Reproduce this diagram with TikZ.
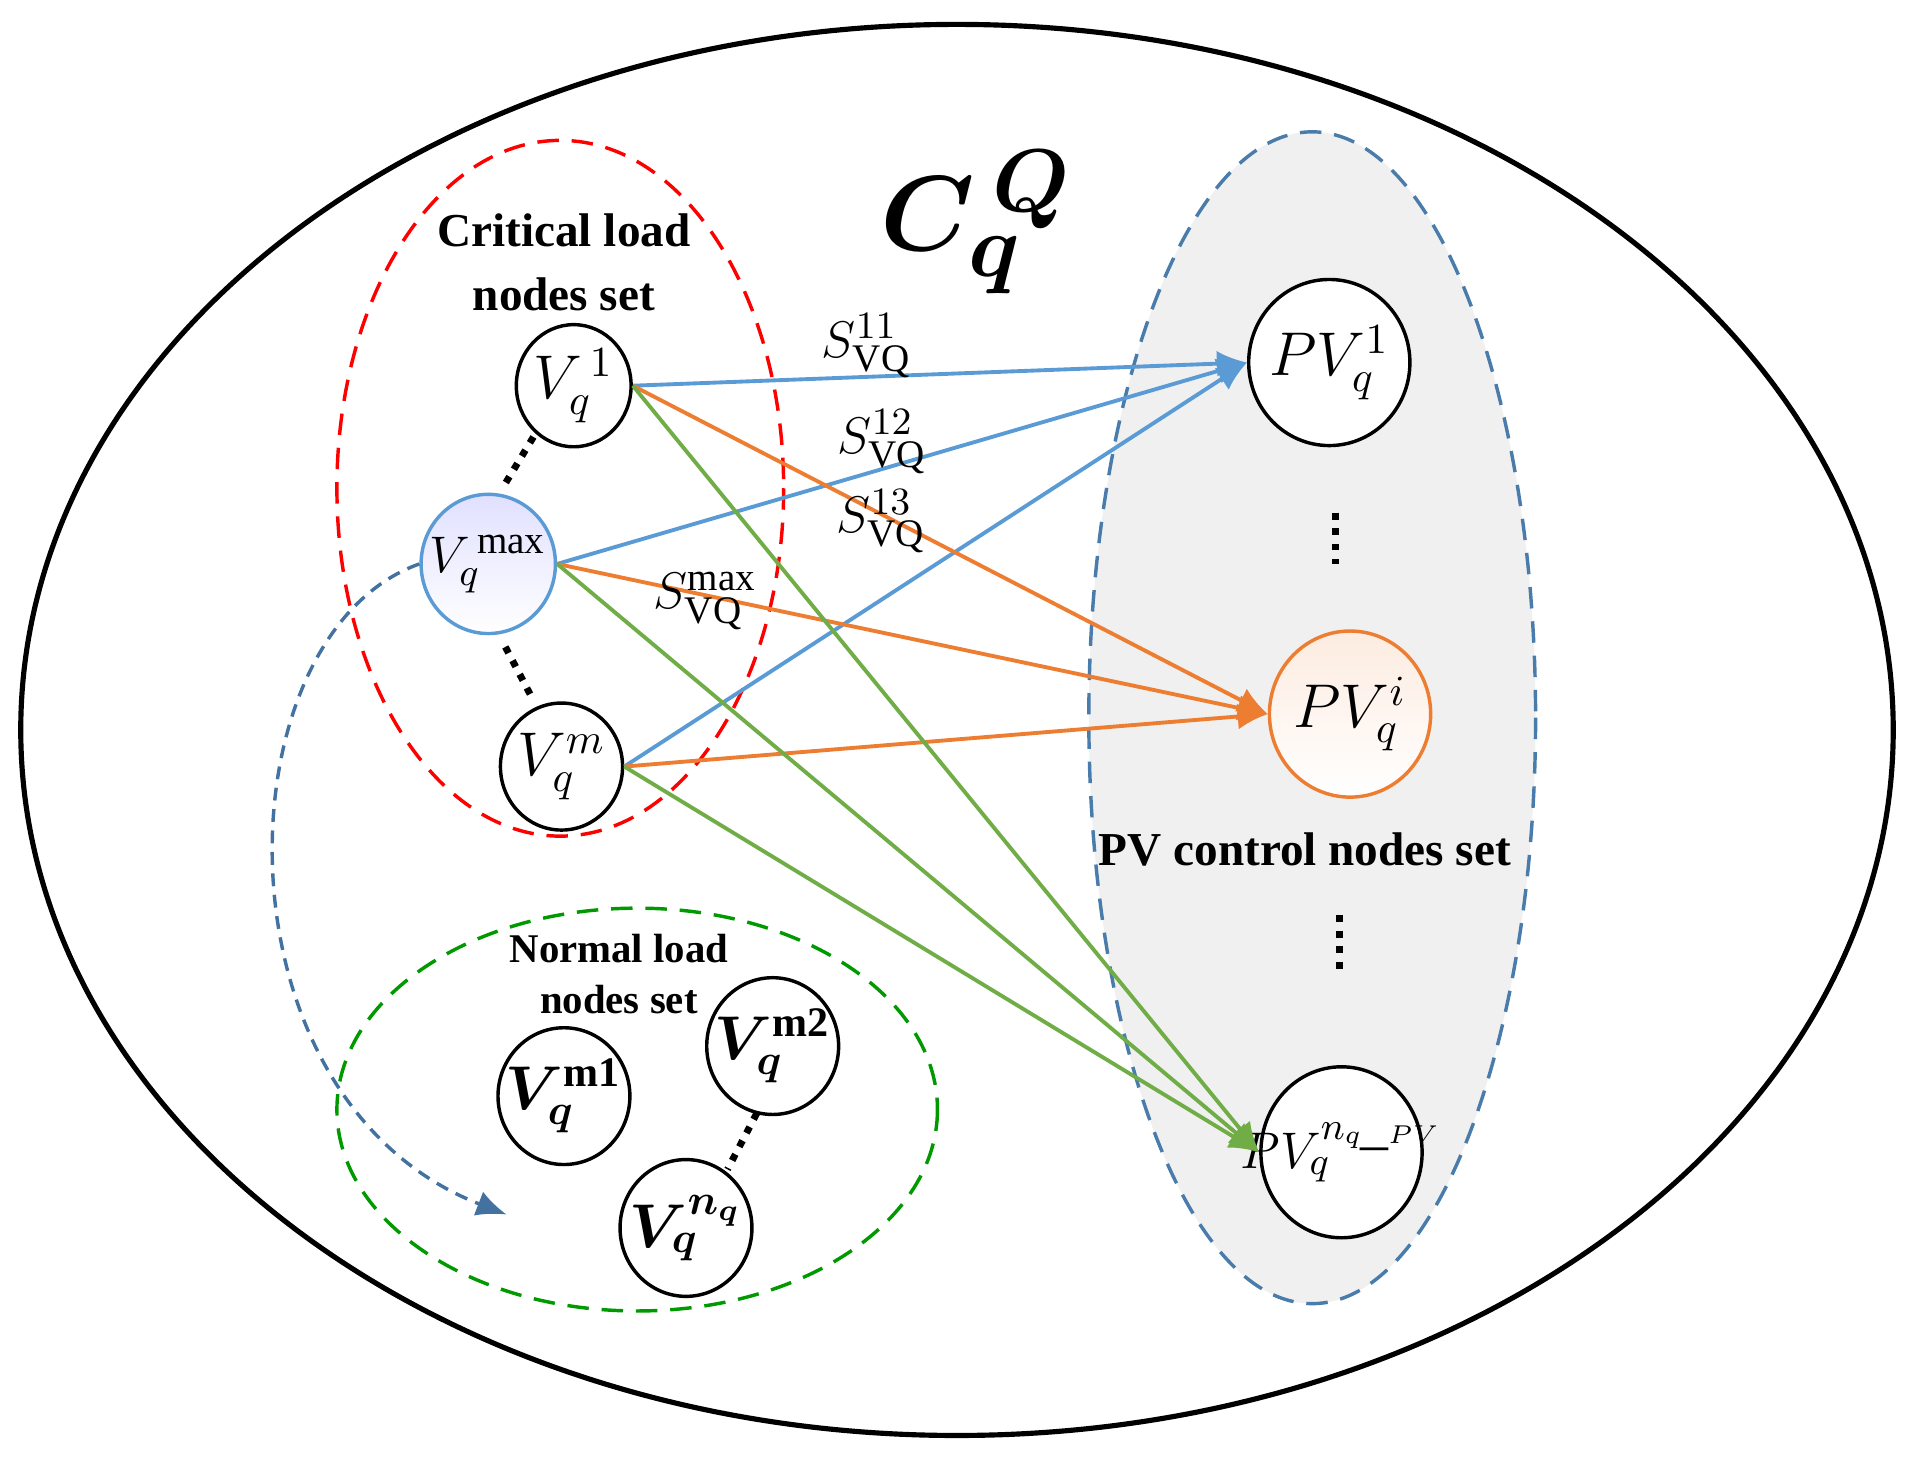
\documentclass[tikz,border=0pt]{standalone}
\usepackage{bm}
\usepackage{fontspec}
\setmainfont{Liberation Serif}
\usetikzlibrary{arrows.meta,shapes.geometric}
\definecolor{bl}{RGB}{91,155,213}
\definecolor{og}{RGB}{237,125,49}
\definecolor{gr}{RGB}{112,173,71}
\definecolor{dbl}{RGB}{68,114,160}
\begin{document}
\begin{tikzpicture}[x=0.01cm,y=-0.01cm,
  nd/.style={draw,thick,fill=white,ellipse,inner sep=0pt},
  lab/.style={font=\fontsize{14}{14}\selectfont,inner sep=0pt},
  bold/.style={font=\fontsize{9.5}{11}\selectfont\bfseries},
  dots/.style={line width=1.6pt,dotted},
  dsh/.style={dash pattern=on 5pt off 3pt},
  ar/.style={-{Latex[length=7pt,width=6pt]},line width=0.9pt}]
\useasboundingbox (0,0) rectangle (1568,1195);
\draw[line width=1.2pt] (784,598) ellipse [x radius=767, y radius=578];
\draw[red,dsh,thick] (459,400) ellipse [x radius=183, y radius=285];
\draw[bl!80!black,dsh,thick,fill=gray!12] (1075,588) ellipse [x radius=183, y radius=480];
\draw[green!60!black,dsh,thick] (522,909) ellipse [x radius=246, y radius=165];
% nodes
\node[nd,minimum width=0.94cm,minimum height=1cm] (v1) at (470,316) {};
\node[nd,draw=bl,top color=blue!12,bottom color=white,minimum width=1.1cm,minimum height=1.14cm] (vmax) at (400,462) {};
\node[nd,minimum width=1cm,minimum height=1.04cm] (vm) at (460,628) {};
\node[nd,minimum width=1.32cm,minimum height=1.36cm] (pv1) at (1089,297) {};
\node[nd,draw=og,top color=og!15,bottom color=white,minimum width=1.32cm,minimum height=1.36cm] (pvi) at (1106,585) {};
\node[nd,minimum width=1.32cm,minimum height=1.4cm] (pvn) at (1099,944) {};
\node[nd,minimum width=1.08cm,minimum height=1.12cm] (vm1) at (462,898) {};
\node[nd,minimum width=1.08cm,minimum height=1.12cm] (vm2) at (633,857) {};
\node[nd,minimum width=1.08cm,minimum height=1.12cm] (vnq) at (562,1006) {};
\node[lab] at (v1) {$V_q^{\,1}$};
\node[lab,font=\fontsize{13}{13}\selectfont] at (vmax) {$V_q^{\,\mathrm{max}}$};
\node[lab] at (vm) {$V_q^{m}$};
\node[lab] at (pv1) {$PV_q^{1}$};
\node[lab] at (pvi) {$PV_q^{i}$};
\node[lab,font=\fontsize{13}{13}\selectfont] at (pvn) {$PV_q^{n_{q\_PV}}$};
\node[lab] at (vm1) {$\bm{V_q^{\mathrm{m1}}}$};
\node[lab] at (vm2) {$\bm{V_q^{\mathrm{m2}}}$};
\node[lab] at (vnq) {$\bm{V_q^{n_q}}$};
\coordinate (dend) at (415,995);
% arrows
\draw[ar,bl] (v1.east) -- (pv1.west);
\draw[ar,bl] (vmax.east) -- (pv1.west);
\draw[ar,bl] (vm.east) -- (pv1.west);
\draw[ar,og] (v1.east) -- (pvi.west);
\draw[ar,og] (vmax.east) -- (pvi.west);
\draw[ar,og] (vm.east) -- (pvi.west);
\draw[ar,gr] (v1.east) -- (pvn.west);
\draw[ar,gr] (vmax.east) -- (pvn.west);
\draw[ar,gr] (vm.east) -- (pvn.west);
\draw[dbl,thick,dash pattern=on 3pt off 2pt,-{Latex[length=7pt,width=6pt]}] (vmax.west) .. controls (180,520) and (170,900) .. (dend);
% dotted
\draw[dots] (v1) ++(-33,42) -- ++(-23,38);
\draw[dots] (vmax) ++(14,68) -- ++(22,42);
\draw[dots] (vm2) ++(-13,55) -- ++(-24,46);
\draw[dots] (1094,420) -- (1094,462);
\draw[dots] (1097,750) -- (1097,795);
% labels
\node[font=\fontsize{13}{13}\selectfont] at (710,283) {$S_{\mathrm{VQ}}^{11}$};
\node[font=\fontsize{13}{13}\selectfont] at (723,362) {$S_{\mathrm{VQ}}^{12}$};
\node[font=\fontsize{13}{13}\selectfont] at (722,427) {$S_{\mathrm{VQ}}^{13}$};
\node[font=\fontsize{13}{13}\selectfont] at (578,492) {$S_{\mathrm{VQ}}^{\mathrm{max}}$};
\node[font=\fontsize{30}{30}\selectfont] at (800,182) {$\bm{C_q^{\,Q}}$};
\node[font=\fontsize{11}{12}\selectfont\bfseries,align=center] at (462,215) {Critical load\\[3pt]nodes set};
\node[bold,align=center] at (507,798) {Normal load\\[1pt]nodes set};
\node[font=\fontsize{11}{12}\selectfont\bfseries] at (1069,696) {PV control nodes set};
\end{tikzpicture}
\end{document}
